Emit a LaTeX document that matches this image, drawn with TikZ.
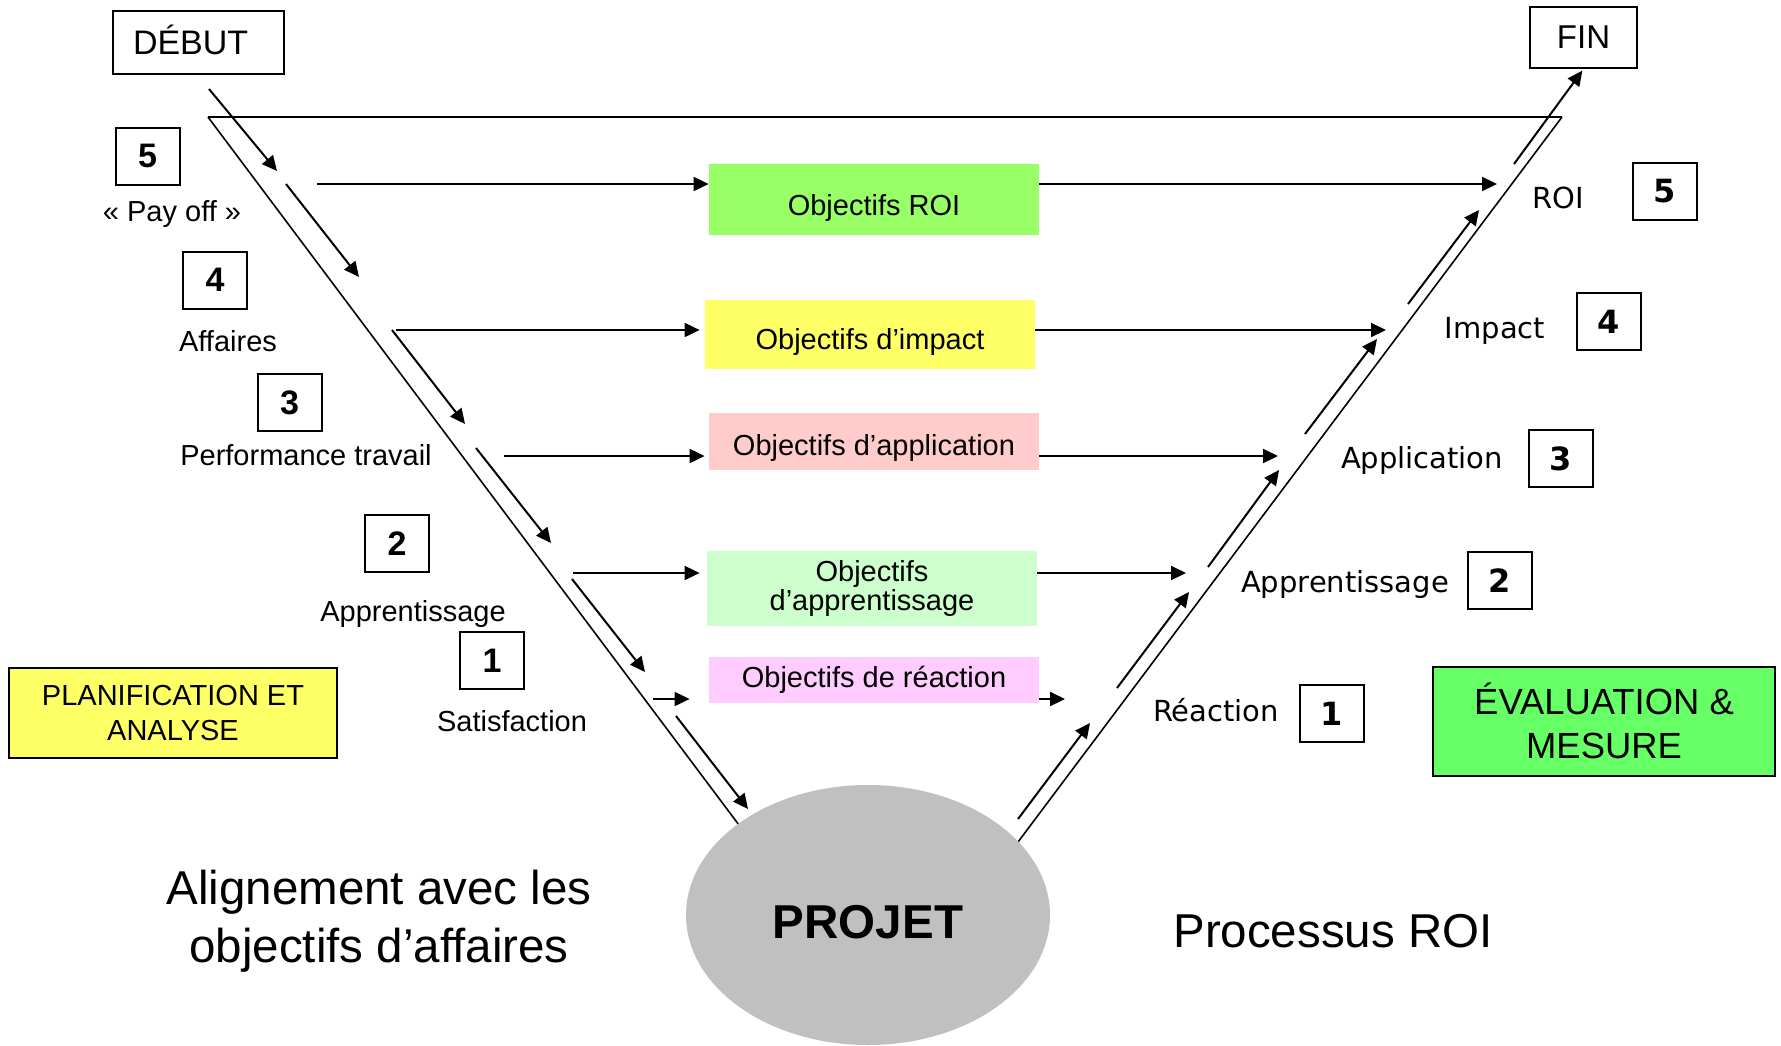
\documentclass[tikz,border=0pt]{standalone}
\usepackage{fontspec}
\setmainfont{Liberation Sans}
\newfontfamily\verdana{DejaVu Sans}
\usepackage{tikz}
\usetikzlibrary{arrows.meta}
\usetikzlibrary{shapes.geometric}
\definecolor{roigreen}{HTML}{99FF66}
\definecolor{impyellow}{HTML}{FFFF66}
\definecolor{apppink}{HTML}{FFCCCC}
\definecolor{lrngreen}{HTML}{CCFFCC}
\definecolor{reacpink}{HTML}{FFCCFF}
\definecolor{evalgreen}{HTML}{66FF66}
\definecolor{projgray}{HTML}{C0C0C0}

\begin{document}
\begin{tikzpicture}
  [x = .5pt, y = -.5pt,
   arr/.style = {line width = 1pt, -{Triangle[length = 7.5pt, width = 7pt]}},
   numbox/.style = {draw, line width = 1pt, minimum width = 32pt, minimum height = 28.5pt, inner sep = 0pt},
   objbox/.style = {minimum width = 165pt, inner sep = 0pt, align = center, font = \fontsize{14.5}{14.25}\selectfont},
   lbl/.style = {anchor = base, font = \fontsize{14.5}{17}\selectfont},
   rlbl/.style = {anchor = base, font = \verdana\fontsize{14.5}{17}\selectfont}]
  \useasboundingbox (0,0) rectangle (1781,1045);

  % start / end
  \node[draw, line width = 1pt, text width = 65.5pt, align = left, inner xsep = 10pt,
        text height = 12pt, text depth = 0pt,
        minimum height = 31.5pt, font = \fontsize{17}{17}\selectfont] (debut) at (198.5,42.5) {DÉBUT};
  \node[draw, line width = 1pt, minimum width = 53.5pt, minimum height = 30.5pt,
        font = \fontsize{16.5}{16.5}\selectfont] (fin) at (1583.5,37.5) {FIN};

  % the V
  \coordinate (tl) at (208,117);
  \coordinate (tr) at (1562,117);
  \coordinate (bl) at (739,825);
  \coordinate (br) at (1018,842);
  \draw[line width = 1.2pt] (tl) -- (tr);
  \draw[line width = .8pt] (tl) -- (bl);
  \draw[line width = .8pt] (tr) -- (br);

  % objectives
  \node[objbox, fill = roigreen, minimum height = 35.5pt, text height = 18.6pt, text depth = 3pt] (roi) at (874,199.5) {Objectifs ROI};
  \node[objbox, fill = impyellow, minimum height = 34.5pt, text height = 17.6pt, text depth = 3pt] (impact) at (870,334.5) {Objectifs d’impact};
  \node[objbox, fill = apppink, minimum height = 28.5pt, text height = 16.6pt, text depth = 3pt] (application) at (874,441.5) {Objectifs d’application};
  \node[objbox, fill = lrngreen, minimum height = 37.5pt] (apprentissage) at (872,588.5) {Objectifs\\d’apprentissage};
  \node[objbox, fill = reacpink, minimum height = 23pt] (reaction) at (874,680) {Objectifs de réaction};

  \node[draw, line width = 1pt, fill = impyellow, minimum width = 164pt, minimum height = 45pt,
        align = center, font = \fontsize{14.5}{17.4}\selectfont] (plan) at (173,713) {PLANIFICATION ET\\ANALYSE};
  \node[draw, line width = 1pt, fill = evalgreen, minimum width = 171pt, minimum height = 54.5pt,
        align = center, font = \fontsize{18.2}{21.7}\selectfont] (eval) at (1604,721) {ÉVALUATION \&\\MESURE};

  \node[ellipse, fill = projgray, minimum width = 182pt, minimum height = 130pt, text height = 23pt, text depth = 0pt,
        font = \bfseries\fontsize{23.75}{23.75}\selectfont] (projet) at (868,915) {PROJET};
  \node[align = center, font = \fontsize{23.75}{29}\selectfont] (alignement) at (379,921) {Alignement avec les\\objectifs d’affaires};
  \node[font = \fontsize{23.75}{29}\selectfont] (processus) at (1333,931) {Processus ROI};

  % levels
  \foreach \k/\cx/\cy in {5/147.5/156, 4/215/280, 3/289.5/402.5, 2/397/543.5, 1/492/660.5}{
    \node[numbox, font = \bfseries\fontsize{17}{17}\selectfont] (left\k) at (\cx,\cy) {\k};
  }
  \foreach \k/\cx/\cy in {5/1665/191.5, 4/1609/321.5, 3/1560.5/458.5, 2/1500/580.5, 1/1332/713.5}{
    \node[numbox, font = \verdana\bfseries\fontsize{16}{16}\selectfont] (right\k) at (\cx,\cy) {\k};
  }
  \node[lbl] (payoff) at (172,221) {« Pay off »};
  \node[lbl] (affaires) at (228,351) {Affaires};
  \node[lbl] (performance) at (306,465) {Performance travail};
  \node[lbl] (apprleft) at (413,621) {Apprentissage};
  \node[lbl] (satisfaction) at (512,731) {Satisfaction};
  \node[rlbl] (roilbl) at (1558,208) {ROI};
  \node[rlbl] (impactlbl) at (1495,338) {Impact};
  \node[rlbl] (applbl) at (1422,468) {Application};
  \node[rlbl] (apprlbl) at (1345,592) {Apprentissage};
  \node[rlbl] (reaclbl) at (1216,721) {Réaction};

  % arrows down the left side
  \foreach \i/\sx/\sy/\ex/\ey in {1/209/89/277/171, 2/286/184/359/277, 3/392/330/465/424,
                                 4/476/448/551/543, 5/572/579/645/672, 6/676/716/748/809}{
    \coordinate (down\i) at (\sx,\sy);
    \coordinate (downend\i) at (\ex,\ey);
    \draw[arr] (down\i) -- (downend\i);
  }
  % arrows up the right side
  \foreach \i/\sx/\sy/\ex/\ey in {1/1018/819/1090/723, 2/1117/688/1189/592, 3/1208/567/1279/470,
                                 4/1305/434/1377/339, 5/1408/304/1479/210}{
    \coordinate (up\i) at (\sx,\sy);
    \coordinate (upend\i) at (\ex,\ey);
    \draw[arr] (up\i) -- (upend\i);
  }
  \coordinate (up6) at (1514,164);
  \draw[arr, shorten >= 1pt] (up6) -- (fin.south);

  % into and out of the objectives
  \foreach \n/\sx/\sy/\gap in {roi/317/184/0pt, impact/396/330/2.5pt, application/504/456/2pt,
                              apprentissage/573/573/3.5pt, reaction/653/699/9.5pt}{
    \coordinate (in\n) at (\sx,\sy);
    \draw[arr, shorten >= \gap] (in\n) -- (in\n -| \n.west);
  }
  \foreach \n/\ex/\ey in {roi/1497/184, impact/1386/330, application/1278/456,
                         apprentissage/1186/573, reaction/1065/699}{
    \coordinate (out\n) at (\ex,\ey);
    \draw[arr] (out\n -| \n.east) -- (out\n);
  }
\end{tikzpicture}
\end{document}
